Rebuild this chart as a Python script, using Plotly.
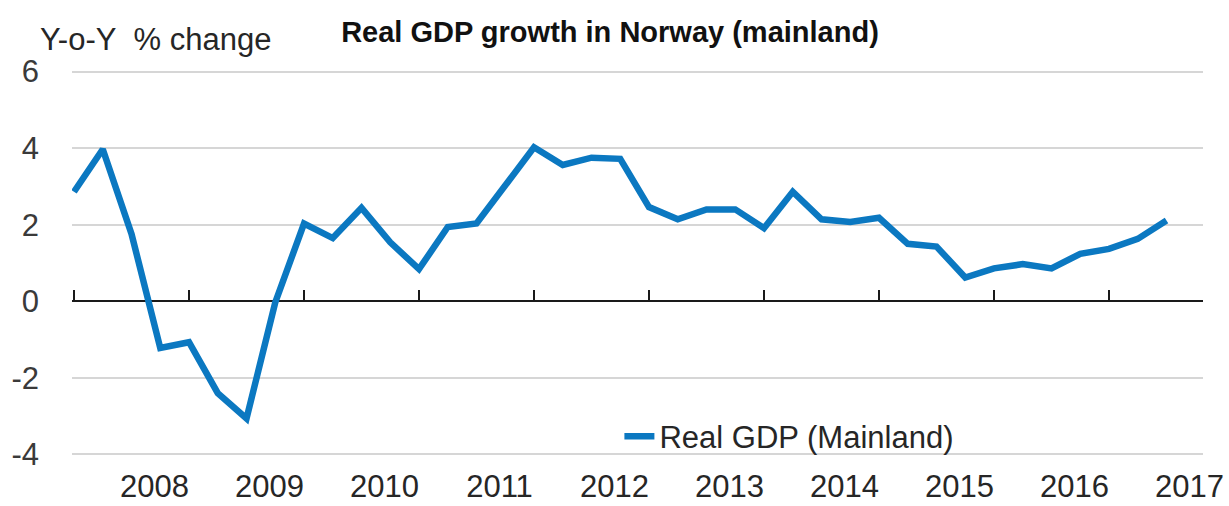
import plotly.graph_objects as go

# ---- data ----
quarters = [f"{y}Q{q}" for y in range(2007, 2017) for q in range(1, 5)][1:]  # 2007Q2 .. 2016Q4
gdp_yoy = [2.86, 3.97, 1.76, -1.22, -1.07, -2.40, -3.06, -0.03,
           2.03, 1.65, 2.44, 1.54, 0.84, 1.94, 2.03, 3.02,
           4.02, 3.56, 3.75, 3.72, 2.46, 2.14, 2.40, 2.40,
           1.91, 2.86, 2.14, 2.07, 2.18, 1.50, 1.43, 0.62,
           0.86, 0.97, 0.86, 1.24, 1.37, 1.63, 2.11]
year_labels = ["2008", "2009", "2010", "2011", "2012", "2013", "2014", "2015", "2016", "2017"]
y_ticks = [-4, -2, 0, 2, 4, 6]
y_ticktext = ["-4", "-2", "0", "2", "4", "6"]
series_name = "Real GDP (Mainland)"
title_text = "Real GDP growth in Norway (mainland)"
y_title = "Y-o-Y\u00a0 % change"

# ---- styling ----
FONT = "Liberation Sans, Arial, sans-serif"
BLUE = "#0b78c1"
TXT = "#262626"
FS = 31

x_idx = list(range(len(gdp_yoy)))
x_range = [-0.07, 39.27]
y_range = [-4.04, 6.04]
# year labels sit just before the first quarter of each year
year_pos = [quarters.index(f"{y}Q1") - 0.2 if f"{y}Q1" in quarters else len(quarters) - 0.2
            for y in year_labels]
tick_pos = [i for i, q in enumerate(quarters) if q.endswith("Q2")]
zero_frac = (0 - y_range[0]) / (y_range[1] - y_range[0])

fig = go.Figure()
fig.add_trace(go.Scatter(x=x_idx, y=gdp_yoy, mode="lines", name=series_name,
                         line=dict(color=BLUE, width=6.5), hoverinfo="skip"))
# helper trace so the zero-line tick axis is drawn
fig.add_trace(go.Scatter(x=x_idx, y=gdp_yoy, xaxis="x2", mode="lines", opacity=0,
                         line=dict(width=0), showlegend=False, hoverinfo="skip"))

fig.update_layout(
    width=1229, height=506,
    margin=dict(l=72, r=26, t=70, b=50, autoexpand=False),
    plot_bgcolor="white", paper_bgcolor="white",
    title=dict(text=f"<b>{title_text}</b>", x=610 / 1229, xanchor="center",
               y=1 - 32 / 506, yanchor="middle", xref="container", yref="container",
               font=dict(family=FONT, size=29, color="#111111")),
    xaxis=dict(range=x_range, tickmode="array", tickvals=year_pos, ticktext=year_labels,
               showgrid=False, zeroline=False, showline=False, ticks="", automargin=False,
               ticklabelstandoff=9, tickfont=dict(family=FONT, size=FS, color=TXT)),
    xaxis2=dict(range=x_range, overlaying="x", anchor="free", position=zero_frac, side="bottom",
                tickmode="array", tickvals=tick_pos, ticks="inside", ticklen=11, tickwidth=2,
                tickcolor="#1a1a1a", showticklabels=False, showgrid=False, zeroline=False,
                showline=False, automargin=False),
    yaxis=dict(range=y_range, tickmode="array", tickvals=y_ticks, ticktext=y_ticktext,
               gridcolor="#d6d6d6", gridwidth=2, zeroline=True, zerolinecolor="#1a1a1a",
               zerolinewidth=2, showline=False, ticks="", ticklabelstandoff=32, automargin=False,
               tickfont=dict(family=FONT, size=FS, color="#3a3a3a")),
    showlegend=True,
    legend=dict(x=0.484, y=0.05, xanchor="left", yanchor="middle",
                bgcolor="rgba(0,0,0,0)", font=dict(family=FONT, size=FS, color=TXT)),
    annotations=[dict(text=y_title, xref="paper", yref="paper", x=(38 - 72) / 1131,
                      y=(456 - 40) / 386, xanchor="left", yanchor="middle",
                      showarrow=False, font=dict(family=FONT, size=FS, color=TXT))],
)

fig.write_html("out.html", config={"displayModeBar": False, "staticPlot": True},
               post_script="document.body.style.margin='0px';")
